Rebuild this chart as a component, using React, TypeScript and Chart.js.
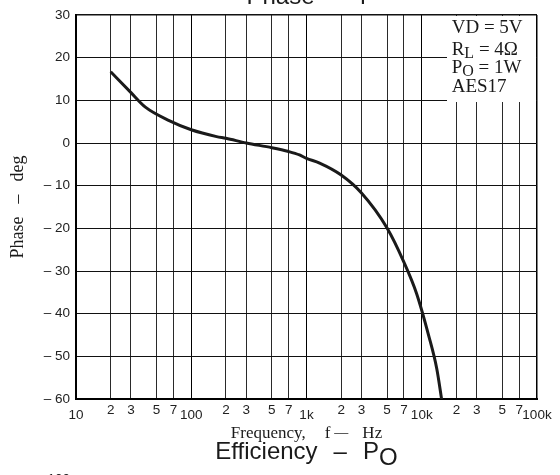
import React, { useEffect, useRef } from 'react';
import { Chart, registerables } from 'chart.js';

Chart.register(...registerables);

// ---- data ----
const freqHz = [20, 30, 40, 65, 100, 166, 200, 300, 500, 700, 870, 1000, 1300, 2000, 3000, 5000, 7000, 9000, 11500, 13500, 15000];
const phaseDeg = [16.7, 11.8, 8.4, 5.2, 3.1, 1.5, 1.1, 0.0, -1.1, -2.0, -2.8, -3.6, -4.7, -7.5, -11.7, -19.9, -27.9, -35.2, -45.2, -52.9, -60.7];

const xTickValues = [10, 20, 30, 50, 70, 100, 200, 300, 500, 700, 1000, 2000, 3000, 5000, 7000, 10000, 20000, 30000, 50000, 70000, 100000];
const xTickLabels = ['10', '2', '3', '5', '7', '100', '2', '3', '5', '7', '1k', '2', '3', '5', '7', '10k', '2', '3', '5', '7', '100k'];
const decadeValues = [10, 100, 1000, 10000, 100000];

const yMin = -60;
const yMax = 30;
const yStep = 10;

const conditionLines = [
  [{ text: 'VD = 5V' }],
  [{ text: 'R' }, { text: 'L', sub: true }, { text: ' = 4Ω' }],
  [{ text: 'P' }, { text: 'O', sub: true }, { text: ' = 1W' }],
  [{ text: 'AES17' }],
];

const SANS = '"Liberation Sans", Arial, sans-serif';
const SERIF = '"Liberation Serif", "Times New Roman", serif';

type Part = { text: string; font: string; dy?: number; gap?: number };

function drawRun(ctx: CanvasRenderingContext2D, parts: Part[], x: number, y: number, center: boolean) {
  let total = 0;
  parts.forEach((p) => {
    ctx.font = p.font;
    total += (p.gap || 0) + ctx.measureText(p.text).width;
  });
  let cx = center ? x - total / 2 : x;
  parts.forEach((p) => {
    ctx.font = p.font;
    cx += p.gap || 0;
    ctx.fillText(p.text, cx, y + (p.dy || 0));
    cx += ctx.measureText(p.text).width;
  });
}

const textPlugin = {
  id: 'extraText',
  afterDraw(chart: any) {
    const ctx: CanvasRenderingContext2D = chart.ctx;
    const { left, right, top, bottom } = chart.chartArea;
    const cx = (left + right) / 2;
    const cy = (top + bottom) / 2;
    ctx.save();
    ctx.textAlign = 'left';
    ctx.textBaseline = 'alphabetic';
    ctx.fillStyle = '#1a1a1a';

    // top title (cut off by the image edge)
    const big = `24px ${SANS}`;
    drawRun(ctx, [
      { text: 'Phase', font: big },
      { text: '–', font: big, gap: 16 },
      { text: 'f', font: big, gap: 16 },
    ], cx, top - 11, true);

    // x-axis title
    drawRun(ctx, [
      { text: 'Frequency,', font: `17px ${SERIF}` },
      { text: 'f', font: `17px ${SERIF}`, gap: 19 },
      { text: '—', font: `14px ${SERIF}`, gap: 4, dy: -1 },
      { text: 'Hz', font: `17px ${SERIF}`, gap: 14 },
    ], cx, bottom + 39, true);

    // next chart title
    drawRun(ctx, [
      { text: 'Efficiency', font: big },
      { text: '–', font: big, gap: 16 },
      { text: 'P', font: big, gap: 16 },
      { text: 'O', font: big, dy: 6 },
    ], cx, bottom + 60, true);

    // y-axis title (rotated)
    ctx.save();
    ctx.translate(23.3, cy);
    ctx.rotate(-Math.PI / 2);
    drawRun(ctx, [
      { text: 'Phase', font: `18px ${SERIF}` },
      { text: '–', font: `18px ${SERIF}`, gap: 13 },
      { text: 'deg', font: `18px ${SERIF}`, gap: 13 },
    ], 0, 0, true);
    ctx.restore();

    // conditions box
    ctx.fillStyle = '#ffffff';
    ctx.fillRect(right - 90, top + 1, 89, 86);
    ctx.fillStyle = '#1a1a1a';
    const baselines = [18.3, 40, 58.3, 76.7];
    conditionLines.forEach((line, i) => {
      drawRun(ctx, line.map((seg: any) => ({
        text: seg.text,
        font: seg.sub ? `16px ${SERIF}` : `19px ${SERIF}`,
        dy: seg.sub ? 2.7 : 0,
      })), right - 85.3, top + baselines[i], false);
    });

    // top of the next chart's tick label
    ctx.fillStyle = '#222';
    ctx.font = `13.5px ${SANS}`;
    ctx.textAlign = 'right';
    ctx.fillText('100', left - 6, bottom + 84);
    ctx.restore();
  },
};

export default function App() {
  const ref = useRef<HTMLCanvasElement>(null);

  useEffect(() => {
    const data = freqHz.map((f, i) => ({ x: f, y: phaseDeg[i] }));
    const chart = new Chart(ref.current as HTMLCanvasElement, {
      type: 'line',
      data: {
        datasets: [
          {
            data,
            borderColor: '#1a1a1a',
            borderWidth: 3,
            pointRadius: 0,
            cubicInterpolationMode: 'monotone',
            fill: false,
          },
        ],
      },
      options: {
        animation: false,
        responsive: false,
        devicePixelRatio: 1,
        layout: { padding: { left: 0, top: 15, right: 23, bottom: 0 } },
        plugins: { legend: { display: false }, tooltip: { enabled: false }, title: { display: false } },
        scales: {
          x: {
            type: 'logarithmic',
            min: 10,
            max: 100000,
            afterBuildTicks: (scale: any) => {
              scale.ticks = xTickValues.map((v) => ({ value: v }));
            },
            afterFit: (scale: any) => {
              scale.height = 76;
            },
            ticks: {
              autoSkip: false,
              maxRotation: 0,
              minRotation: 0,
              padding: 3,
              color: '#222',
              font: (c: any) => ({
                family: SANS,
                size: 13.5,
                lineHeight: c.tick && decadeValues.includes(c.tick.value) ? 1.92 : 1.2,
              }),
              callback: (_v: any, index: number) => xTickLabels[index],
            },
            grid: {
              drawTicks: false,
              color: (c: any) => (c.tick && decadeValues.includes(c.tick.value) ? '#000' : '#2a2a2a'),
              lineWidth: (c: any) => (c.tick && c.tick.value === 100000 ? 1.5 : 1),
            },
            border: { color: '#000', width: 2 },
          },
          y: {
            type: 'linear',
            min: yMin,
            max: yMax,
            afterFit: (scale: any) => {
              scale.width = 76;
            },
            ticks: {
              stepSize: yStep,
              padding: 6,
              color: '#222',
              font: { family: SANS, size: 13.5 },
              callback: (v: any) => (Number(v) < 0 ? '– ' + Math.abs(Number(v)) : String(v)),
            },
            grid: {
              drawTicks: false,
              color: '#111',
              lineWidth: (c: any) => (c.tick && c.tick.value === yMax ? 1.5 : 1),
            },
            border: { color: '#000', width: 2 },
          },
        },
      },
      plugins: [textPlugin],
    } as any);
    return () => chart.destroy();
  }, []);

  return (
    <div style={{ position: 'fixed', left: 0, top: 0, width: 560, height: 475, background: '#fff' }}>
      <canvas ref={ref} width={560} height={475} style={{ display: 'block', width: 560, height: 475 }} />
    </div>
  );
}
